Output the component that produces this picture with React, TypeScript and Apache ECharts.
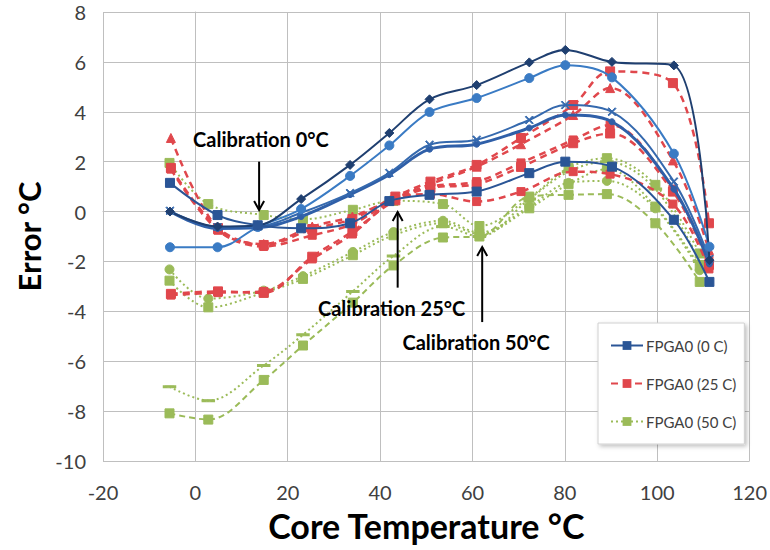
import React, { useEffect, useRef } from "react";
import * as echarts from "echarts";

// Core temperature (x) positions per group
const blueX = [-5.5, 4.8, 13.5, 22.9, 33.5, 42, 50.7, 60.9, 72.3, 80.1, 90.2, 103.6, 111.3];
const redX = [-5.3, 4.9, 14.8, 25.3, 34, 43.3, 50.9, 60.9, 70.5, 81.8, 89.8, 103.4, 111.2];
const greenX = [-5.6, 2.8, 14.8, 23.3, 34.1, 42.9, 53.6, 61.5, 72.3, 80.8, 89.1, 99.6, 109.2];

// Calibration 0 °C (blue, solid)
const blueSquare = [1.15, -0.14, -0.55, -0.67, -0.47, 0.42, 0.67, 0.8, 1.54, 2.0, 1.8, -0.33, -2.82];
const blueDiamond = [0.0, -0.6, -0.55, 0.5, 1.87, 3.15, 4.5, 5.07, 5.98, 6.48, 6.0, 5.86, -1.95];
const blueCircle = [-1.43, -1.43, -0.62, 0.1, 1.43, 2.65, 3.99, 4.55, 5.35, 5.87, 5.38, 2.32, -1.41];
const blueCross = [0.03, -0.62, -0.6, -0.05, 0.74, 1.55, 2.68, 2.88, 3.67, 4.27, 4.0, 1.2, -1.9];
const blueThick = [0.0, -0.68, -0.65, -0.2, 0.68, 1.48, 2.5, 2.7, 3.35, 3.87, 3.6, 0.9, -2.1];

// Calibration 25 °C (red, dashed)
const redSquare = [1.75, -0.66, -1.34, -0.7, -0.3, 0.6, 1.2, 1.87, 2.95, 4.27, 5.62, 5.15, -0.47];
const redTriangle = [2.95, -0.7, -1.3, -0.6, -0.2, 0.55, 1.1, 1.8, 2.7, 3.87, 4.95, 2.05, -1.54];
const redC = [1.7, -0.75, -1.4, -0.95, -0.5, 0.5, 1.0, 1.2, 1.95, 2.87, 3.47, 0.9, -1.94];
const redD = [-3.3, -3.2, -3.26, -1.81, -0.8, 0.45, 0.95, 1.1, 1.79, 2.74, 3.13, 0.8, -2.14];
const redE = [-3.35, -3.25, -3.2, -1.9, -0.9, 0.5, 0.7, 0.4, 0.8, 1.6, 1.5, 0.3, -2.3];

// Calibration 50 °C (green, dotted)
const greenSquare = [1.95, 0.3, -0.14, -0.31, 0.07, 0.43, 0.3, -0.58, 0.55, 1.75, 2.14, 1.07, -1.68];
const greenCircle = [-2.32, -3.49, -3.17, -2.59, -1.62, -0.82, -0.37, -0.84, 0.2, 1.15, 1.23, 0.13, -2.35];
const greenC = [-2.77, -3.84, -3.25, -2.7, -1.75, -0.95, -0.47, -0.9, 0.13, 1.1, 1.7, 0.2, -2.2];
const greenDash = [-7.02, -7.58, -6.17, -4.94, -3.2, -1.78, -0.6, -1.0, 0.5, 1.6, 2.0, 0.9, -2.0];
const greenE = [-8.09, -8.34, -6.75, -5.37, -3.65, -2.16, -1.04, -1.0, 0.6, 0.67, 0.7, -0.47, -2.82];

const legendNames = ["FPGA0 (0 C)", "FPGA0 (25 C)", "FPGA0 (50 C)"];
const xTicks = { min: -20, max: 120, interval: 20 };
const yTicks = { min: -10, max: 8, interval: 2 };

// annotations: [label, textX, textY, arrowX, tailY, tipY]
const annotations: [string, number, number, number, number, number][] = [
  ["Calibration 0°C", 14.2, 2.9, 13.8, 2.0, 0.06],
  ["Calibration 25°C", 42.5, -3.85, 43.8, -3.05, -0.02],
  ["Calibration 50°C", 60.8, -5.22, 62.1, -4.43, -1.42],
];

const FONT = "Lato, 'Open Sans', sans-serif";
const CROSS = "path://M0,1L1,0L5,4L9,0L10,1L6,5L10,9L9,10L5,6L1,10L0,9L4,5Z";

function mk(
  name: string,
  xs: number[],
  ys: number[],
  color: string,
  lineType: any,
  width: number,
  symbol: string,
  size: any,
  z: number
) {
  return {
    name,
    type: "line",
    data: xs.map((x, i) => [x, ys[i]]),
    smooth: 0.35,
    symbol,
    symbolSize: size,
    showSymbol: true,
    z,
    lineStyle: { color, width, type: lineType },
    itemStyle: { color, borderColor: color },
    emphasis: { disabled: true },
  };
}

export default function App() {
  const ref = useRef<HTMLDivElement>(null);
  useEffect(() => {
    const chart = echarts.init(ref.current!, null, { renderer: "svg" });
    const RED = "#E0474C";
    const GREEN = "#9BBB59";
    const dash = [7, 5];
    const dot = [2, 3];
    chart.setOption({
      animation: false,
      backgroundColor: "#ffffff",
      grid: { left: 103, top: 12, width: 650, height: 449, containLabel: false },
      xAxis: {
        type: "value",
        ...xTicks,
        axisLine: { show: true, lineStyle: { color: "#BFBFBF" } },
        axisTick: { show: false },
        splitLine: { show: true, lineStyle: { color: "#BFBFBF", width: 1 } },
        axisLabel: { fontSize: 20, color: "#404040", fontFamily: FONT, margin: 21 },
        name: "Core Temperature °C",
        nameLocation: "middle",
        nameGap: 47,
        nameTextStyle: { fontSize: 34, fontWeight: "bold", color: "#000", fontFamily: FONT },
      },
      yAxis: {
        type: "value",
        ...yTicks,
        axisLine: { show: true, lineStyle: { color: "#BFBFBF" } },
        axisTick: { show: false },
        splitLine: { show: true, lineStyle: { color: "#BFBFBF", width: 1 } },
        axisLabel: { fontSize: 20, color: "#404040", fontFamily: FONT, margin: 17 },
        name: "Error °C",
        nameLocation: "middle",
        nameGap: 56,
        nameTextStyle: { fontSize: 31, fontWeight: "bold", color: "#000", fontFamily: FONT },
      },
      legend: {
        data: legendNames,
        orient: "vertical",
        left: 598,
        top: 323,
        padding: [15, 8, 15, 12],
        itemGap: 23,
        itemWidth: 32,
        itemHeight: 11,
        backgroundColor: "#ffffff",
        borderColor: "#D0D0D0",
        borderWidth: 1,
        shadowColor: "rgba(0,0,0,0.25)",
        shadowBlur: 4,
        shadowOffsetX: 2,
        shadowOffsetY: 2,
        textStyle: { fontSize: 15, color: "#404040", fontFamily: FONT, padding: [0, 0, 0, -2] },
      },
      series: [
        mk(legendNames[2], greenX, greenSquare, GREEN, dot, 2, "rect", 9, 2),
        mk("FPGA1 (50 C)", greenX, greenCircle, GREEN, dot, 2, "circle", 9, 2),
        mk("FPGA2 (50 C)", greenX, greenC, GREEN, dot, 2, "rect", 9, 2),
        mk("FPGA3 (50 C)", greenX, greenDash, GREEN, dot, 2, "rect", [9, 2], 2),
        mk("FPGA4 (50 C)", greenX, greenE, GREEN, [6, 4], 2, "rect", 9, 2),
        mk(legendNames[1], redX, redSquare, RED, dash, 2.5, "rect", 9, 3),
        mk("FPGA1 (25 C)", redX, redTriangle, RED, dash, 2.5, "triangle", 9, 3),
        mk("FPGA2 (25 C)", redX, redC, RED, dash, 2.5, "rect", 8, 3),
        mk("FPGA3 (25 C)", redX, redD, RED, dash, 2.5, "rect", 9, 3),
        mk("FPGA4 (25 C)", redX, redE, RED, dash, 2.5, "rect", 8, 3),
        mk("FPGA4 (0 C)", blueX, blueThick, "#2F5FA8", "solid", 3, "circle", 6, 4),
        mk("FPGA3 (0 C)", blueX, blueCross, "#3569AE", "solid", 2, CROSS, 8, 4),
        mk("FPGA2 (0 C)", blueX, blueCircle, "#3A7BC4", "solid", 2, "circle", 9, 4),
        mk("FPGA1 (0 C)", blueX, blueDiamond, "#1F3F70", "solid", 2, "diamond", 9, 4),
        mk(legendNames[0], blueX, blueSquare, "#2A5596", "solid", 2, "rect", 9, 5),
      ],
    });

    const px = (p: number[]) => chart.convertToPixel({ gridIndex: 0 }, p) as number[];
    const graphic: any[] = [];
    annotations.forEach(([label, tx, ty, ax, tail, tip]) => {
      const t = px([tx, ty]);
      const a0 = px([ax, tail]);
      const a1 = px([ax, tip]);
      const dir = a1[1] > a0[1] ? 1 : -1;
      graphic.push({
        type: "text",
        x: t[0],
        y: t[1],
        z: 100,
        style: {
          text: label,
          fontSize: 20,
          fontWeight: "bold",
          fontFamily: FONT,
          fill: "#000",
          align: "center",
          verticalAlign: "middle",
        },
      });
      graphic.push({
        type: "line",
        z: 100,
        shape: { x1: a0[0], y1: a0[1], x2: a1[0], y2: a1[1] },
        style: { stroke: "#000", lineWidth: 2 },
      });
      graphic.push({
        type: "polyline",
        z: 100,
        shape: {
          points: [
            [a1[0] - 5, a1[1] - dir * 9],
            [a1[0], a1[1]],
            [a1[0] + 5, a1[1] - dir * 9],
          ],
        },
        style: { stroke: "#000", lineWidth: 2, fill: "none" },
      });
    });
    chart.setOption({ graphic });
    return () => chart.dispose();
  }, []);
  return (
    <div
      ref={ref}
      style={{ position: "absolute", left: 0, top: 0, width: 770, height: 550, background: "#fff" }}
    />
  );
}
